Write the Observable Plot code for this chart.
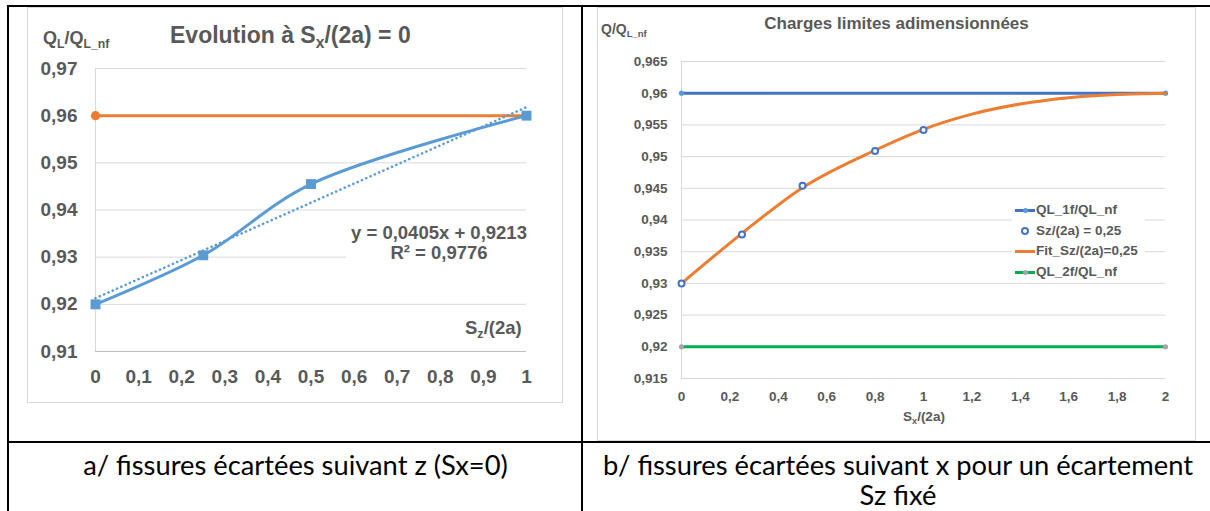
<!DOCTYPE html>
<html>
<head>
<meta charset="utf-8">
<script src="https://cdn.jsdelivr.net/npm/d3@7"></script>
<script src="https://cdn.jsdelivr.net/npm/@observablehq/plot@0.6"></script>
<style>
  html, body { margin: 0; padding: 0; background: white; }
  #page { position: relative; width: 1210px; height: 511px; overflow: hidden; background: white; }
  .abs { position: absolute; }
  .hl { position: absolute; background: black; }
  .lbl { position: absolute; font-family: "Liberation Sans", Arial, sans-serif; font-weight: bold; color: #595959; line-height: 1; white-space: nowrap; }
  .lbl sub { font-size: 0.68em; vertical-align: -0.3em; line-height: 0; }
  .frame { position: absolute; box-sizing: border-box; border: 1px solid #d9d9d9; background: white; }
  .cap { position: absolute; font-family: Lato, "Open Sans", "Liberation Sans", sans-serif; font-size: 26px; color: black; white-space: nowrap; line-height: 30px; transform-origin: 50% 50%; }
  .leg { position: absolute; font-family: "Liberation Sans", Arial, sans-serif; font-weight: bold; font-size: 13.5px; color: #595959; line-height: 1; white-space: nowrap; }
</style>
</head>
<body>
<div id="page">
  <div class="frame" id="leftFrame" style="left:27px; top:7px; width:536px; height:396px;"></div>
  <div class="frame" id="rightFrame" style="left:597px; top:7px; width:599px; height:434px;"></div>
</div>
<script>
// ---------- Data: chart a (left) ----------
const leftSz = [0, 0.25, 0.5, 1];
const leftQ = [0.92, 0.9304, 0.9455, 0.96];
const leftRefX = [0, 1];
const leftRefQ = [0.96, 0.96];
const trendX = [0, 1];
const trendQ = [0.9213, 0.9618];
const leftXTicks = [0, 0.1, 0.2, 0.3, 0.4, 0.5, 0.6, 0.7, 0.8, 0.9, 1];
const leftYTicks = [0.91, 0.92, 0.93, 0.94, 0.95, 0.96, 0.97];

// ---------- Data: chart b (right) ----------
const ql1fX = [0, 2];
const ql1fQ = [0.96, 0.96];
const ql2fX = [0, 2];
const ql2fQ = [0.92, 0.92];
const szX = [0, 0.25, 0.5, 0.8, 1];
const szQ = [0.93, 0.9377, 0.9454, 0.9509, 0.9542];
const fitX = [0, 0.25, 0.5, 0.8, 1, 1.2, 1.4, 1.6, 1.8, 2];
const fitQ = [0.93, 0.9379, 0.9451, 0.951, 0.9543, 0.9567, 0.9583, 0.9593, 0.9598, 0.96];
const rightXTicks = [0, 0.2, 0.4, 0.6, 0.8, 1, 1.2, 1.4, 1.6, 1.8, 2];
const rightYTicks = [0.915, 0.92, 0.925, 0.93, 0.935, 0.94, 0.945, 0.95, 0.955, 0.96, 0.965];

const FONT = '"Liberation Sans", Arial, sans-serif';
const fmt = d => String(d).replace(".", ",");
const zip = (xs, ys) => xs.map((x, i) => ({x, y: ys[i]}));

const page = document.getElementById("page");

// ---------- Left chart ----------
const left = Plot.plot({
  width: 536, height: 396,
  marginLeft: 68, marginRight: 37, marginTop: 61, marginBottom: 52,
  style: {fontFamily: FONT, fontWeight: "bold", fontSize: "19px", color: "#595959", background: "transparent", overflow: "visible"},
  x: {domain: [0, 1], ticks: leftXTicks, tickFormat: fmt, tickSize: 0, tickPadding: 18, label: null},
  y: {domain: [0.91, 0.97], ticks: leftYTicks, tickFormat: fmt, tickSize: 0, tickPadding: 18, label: null},
  marks: [
    Plot.ruleY(leftYTicks.slice(1), {stroke: "#d9d9d9", strokeWidth: 1}),
    Plot.ruleX([0], {stroke: "#d9d9d9", strokeWidth: 1}),
    Plot.ruleY([0.91], {stroke: "#bfbfbf", strokeWidth: 1}),
    Plot.line(zip(leftRefX, leftRefQ), {x: "x", y: "y", stroke: "#ED7D31", strokeWidth: 3}),
    Plot.dot(zip(leftRefX, leftRefQ).slice(0, 1), {x: "x", y: "y", r: 4.6, fill: "#ED7D31", stroke: "none"}),
    Plot.line(zip(trendX, trendQ), {x: "x", y: "y", stroke: "#5B9BD5", strokeWidth: 2.6, strokeDasharray: "0.1,4.6", strokeLinecap: "round"}),
    Plot.line(zip(leftSz, leftQ), {x: "x", y: "y", stroke: "#5B9BD5", strokeWidth: 3, curve: "catmull-rom"}),
    Plot.dot(zip(leftSz, leftQ), {x: "x", y: "y", symbol: "square", r: 5.6, fill: "#5B9BD5", stroke: "none"})
  ]
});
left.style.position = "absolute";
left.style.left = "27px";
left.style.top = "7px";
page.appendChild(left);

// ---------- Right chart ----------
const right = Plot.plot({
  width: 599, height: 434,
  marginLeft: 84, marginRight: 31, marginTop: 54, marginBottom: 63,
  style: {fontFamily: FONT, fontWeight: "bold", fontSize: "13.5px", color: "#595959", background: "transparent", overflow: "visible"},
  x: {domain: [0, 2], ticks: rightXTicks, tickFormat: fmt, tickSize: 0, tickPadding: 13, label: null},
  y: {domain: [0.915, 0.965], ticks: rightYTicks, tickFormat: fmt, tickSize: 0, tickPadding: 14, label: null},
  marks: [
    Plot.ruleY(rightYTicks.slice(1), {stroke: "#d9d9d9", strokeWidth: 1}),
    Plot.ruleX([0], {stroke: "#d9d9d9", strokeWidth: 1}),
    Plot.ruleY([0.915], {stroke: "#d9d9d9", strokeWidth: 1}),
    Plot.line(zip(ql1fX, ql1fQ), {x: "x", y: "y", stroke: "#4472C4", strokeWidth: 3}),
    Plot.dot(zip(ql1fX, ql1fQ), {x: "x", y: "y", r: 2.6, fill: "#5B9BD5", stroke: "none"}),
    Plot.line(zip(ql2fX, ql2fQ), {x: "x", y: "y", stroke: "#00B050", strokeWidth: 3}),
    Plot.dot(zip(ql2fX, ql2fQ), {x: "x", y: "y", r: 2.6, fill: "#A5A5A5", stroke: "none"}),
    Plot.line(zip(fitX, fitQ), {x: "x", y: "y", stroke: "#ED7D31", strokeWidth: 3, curve: "monotone-x"}),
    Plot.dot(zip(szX, szQ), {x: "x", y: "y", r: 3, fill: "white", stroke: "#4472C4", strokeWidth: 2})
  ]
});
right.style.position = "absolute";
right.style.left = "597px";
right.style.top = "7px";
page.appendChild(right);

// ---------- Overlay texts ----------
function add(html) { page.insertAdjacentHTML("beforeend", html); }

// left chart
add('<div class="lbl" style="left:43px; top:29px; font-size:18px;">Q<sub>L</sub>/Q<sub>L_nf</sub></div>');
add('<div class="lbl" style="left:170px; top:24px; font-size:23px;">Evolution à S<sub>x</sub>/(2a) = 0</div>');
add('<div class="abs" style="left:346px; top:222px; width:186px; height:42px; background:white;"></div>');
add('<div class="lbl" style="left:339px; top:223px; width:200px; text-align:center; font-size:18.5px; line-height:20px;">y = 0,0405x + 0,9213<br>R² = 0,9776</div>');
add('<div class="lbl" style="left:465px; top:319px; font-size:18.5px;">S<sub>z</sub>/(2a)</div>');

// right chart
add('<div class="lbl" style="left:601px; top:22px; font-size:14px;">Q/Q<sub>L_nf</sub></div>');
add('<div class="lbl" style="left:597px; top:15px; width:599px; text-align:center; font-size:17px;">Charges limites adimensionnées</div>');
add('<div class="lbl" style="left:903px; top:410px; font-size:13.5px;">S<sub>x</sub>/(2a)</div>');

// legend
add('<div class="abs" style="left:1012px; top:200px; width:133px; height:81px; background:white;"></div>');
const legendRows = [
  {label: "QL_1f/QL_nf", line: "#4472C4", dot: "#5B9BD5", cy: 210},
  {label: "Sz/(2a) = 0,25", line: null, ring: "#4472C4", cy: 231},
  {label: "Fit_Sz/(2a)=0,25", line: "#ED7D31", dot: null, cy: 251},
  {label: "QL_2f/QL_nf", line: "#00B050", dot: "#A5A5A5", cy: 272}
];
legendRows.forEach(r => {
  if (r.line) add(`<div class="abs" style="left:1015px; top:${r.cy - 1.5}px; width:20px; height:3px; background:${r.line};"></div>`);
  if (r.dot) add(`<div class="abs" style="left:1022.5px; top:${r.cy - 2.5}px; width:5px; height:5px; border-radius:50%; background:${r.dot};"></div>`);
  if (r.ring) add(`<div class="abs" style="left:1021px; top:${r.cy - 4}px; width:4px; height:4px; border-radius:50%; border:2px solid ${r.ring}; background:white;"></div>`);
  add(`<div class="leg" style="left:1036px; top:${r.cy - 6.6}px;">${r.label}</div>`);
});

// table lines
add('<div class="hl" style="left:7px; top:5px; width:1210px; height:2px;"></div>');
add('<div class="hl" style="left:7px; top:5px; width:2px; height:506px;"></div>');
add('<div class="hl" style="left:581px; top:5px; width:2px; height:506px;"></div>');
add('<div class="hl" style="left:7px; top:441px; width:1210px; height:2px;"></div>');

// captions
add('<div class="cap" id="capA" style="left:0px; width:591px; top:450px; text-align:center;"><span>a/ fissures écartées suivant z (Sx=0)</span></div>');
add('<div class="cap" id="capB" style="left:583px; width:630px; top:450px; text-align:center;"><span id="capB1">b/ fissures écartées suivant x pour un écartement</span><br><span>Sz fixé</span></div>');

// fit caption widths to the reference
const b1 = document.getElementById("capB1").getBoundingClientRect().width;
const s = 590 / b1;
document.getElementById("capA").style.transform = `scaleX(${s})`;
document.getElementById("capB").style.transform = `scaleX(${s})`;
</script>
</body>
</html>
